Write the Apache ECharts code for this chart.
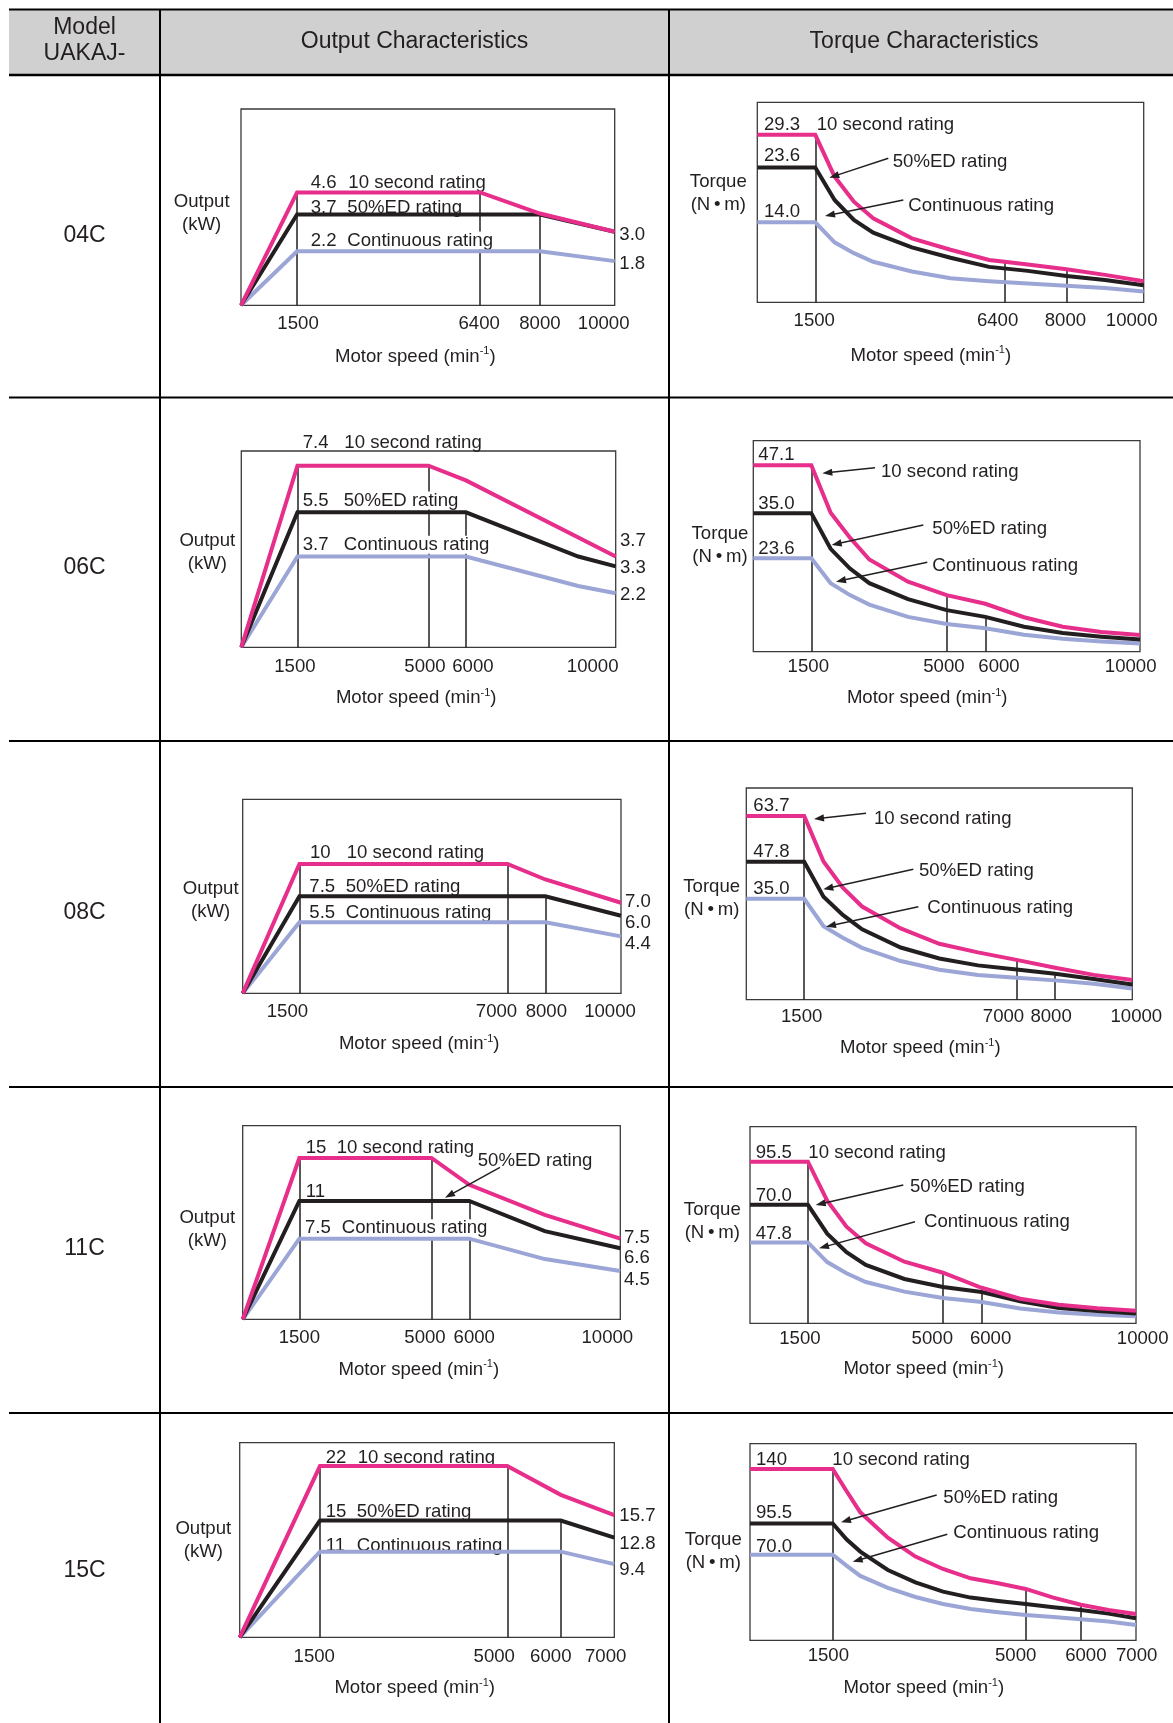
<!DOCTYPE html>
<html>
<head>
<meta charset="utf-8">
<title>UAKAJ output and torque characteristics</title>
<script src="https://cdn.jsdelivr.net/npm/echarts@6.0.0/dist/echarts.min.js"></script>
<style>
  html, body { margin: 0; padding: 0; background: #ffffff; }
  #sheet { width: 1173px; height: 1723px; }
</style>
</head>
<body>
<div id="sheet"></div>
<script>
// ---------------- models and rating names ----------------
const models = ['04C', '06C', '08C', '11C', '15C'];
const ratingNames = ['10 second rating', '50%ED rating', 'Continuous rating'];

// ---------------- 04C ----------------
const speedTicks04C = [1500, 6400, 8000, 10000];
const output04C_10sec = [[0, 0], [1500, 4.6], [6400, 4.6], [8000, 3.74], [10000, 3.0]];
const output04C_50ed  = [[0, 0], [1500, 3.7], [8000, 3.7], [10000, 3.0]];
const output04C_cont  = [[0, 0], [1500, 2.2], [8000, 2.2], [10000, 1.8]];
const outputMarks04C  = [[1500, 4.6], [6400, 4.6], [8000, 3.7]];
const torque04C_10sec = [[0, 29.3], [1500, 29.3], [2000, 22.0], [2500, 17.6], [3000, 14.7], [4000, 11.2], [5000, 9.2], [6000, 7.4], [6400, 7.1], [7000, 6.6], [8000, 5.8], [9000, 4.8], [10000, 3.7]];
const torque04C_50ed  = [[0, 23.6], [1500, 23.6], [2000, 17.9], [2500, 14.4], [3000, 12.2], [4000, 9.6], [5000, 7.8], [6000, 6.2], [7000, 5.5], [8000, 4.6], [9000, 3.9], [10000, 3.0]];
const torque04C_cont  = [[0, 14.0], [1500, 14.0], [2000, 10.5], [2500, 8.6], [3000, 7.1], [4000, 5.4], [5000, 4.2], [6000, 3.7], [7000, 3.3], [8000, 2.9], [9000, 2.5], [10000, 1.9]];
const torqueMarks04C  = [[1500, 29.3], [6400, 7.1], [8000, 5.8]];

// ---------------- 06C ----------------
const speedTicks06C = [1500, 5000, 6000, 10000];
const output06C_10sec = [[0, 0], [1500, 7.4], [5000, 7.4], [6000, 6.8], [10000, 3.7]];
const output06C_50ed  = [[0, 0], [1500, 5.5], [6000, 5.5], [9000, 3.7], [10000, 3.3]];
const output06C_cont  = [[0, 0], [1500, 3.7], [6000, 3.7], [9000, 2.5], [10000, 2.2]];
const outputMarks06C  = [[1500, 7.4], [5000, 7.4], [6000, 5.5]];
const torque06C_10sec = [[0, 47.1], [1500, 47.1], [2000, 35.1], [2500, 28.8], [3000, 23.3], [4000, 17.7], [5000, 14.3], [6000, 12.1], [7000, 8.7], [8000, 6.3], [9000, 5.0], [10000, 4.2]];
const torque06C_50ed  = [[0, 35.0], [1500, 35.0], [2000, 26.0], [2500, 21.0], [3000, 17.3], [4000, 13.3], [5000, 10.5], [6000, 8.8], [7000, 6.3], [8000, 4.7], [9000, 3.8], [10000, 3.1]];
const torque06C_cont  = [[0, 23.6], [1500, 23.6], [2000, 17.3], [2500, 14.3], [3000, 11.9], [4000, 8.8], [5000, 7.0], [6000, 5.9], [7000, 4.3], [8000, 3.3], [9000, 2.6], [10000, 2.1]];
const torqueMarks06C  = [[1500, 47.1], [5000, 14.3], [6000, 8.8]];

// ---------------- 08C ----------------
const speedTicks08C = [1500, 7000, 8000, 10000];
const output08C_10sec = [[0, 0], [1500, 10], [7000, 10], [8000, 8.8], [10000, 7.0]];
const output08C_50ed  = [[0, 0], [1500, 7.5], [8000, 7.5], [10000, 6.0]];
const output08C_cont  = [[0, 0], [1500, 5.5], [8000, 5.5], [10000, 4.4]];
const outputMarks08C  = [[1500, 10], [7000, 10], [8000, 7.5]];
const torque08C_10sec = [[0, 63.7], [1500, 63.7], [2000, 47.9], [2500, 38.8], [3000, 32.3], [4000, 24.7], [5000, 19.4], [6000, 16.4], [7000, 13.8], [8000, 11.1], [9000, 8.6], [10000, 6.8]];
const torque08C_50ed  = [[0, 47.8], [1500, 47.8], [2000, 35.7], [2500, 29.4], [3000, 24.4], [4000, 18.1], [5000, 14.3], [6000, 11.9], [7000, 10.5], [8000, 9.0], [9000, 7.2], [10000, 5.3]];
const torque08C_cont  = [[0, 35.0], [1500, 35.0], [2000, 25.5], [2500, 21.5], [3000, 18.0], [4000, 13.4], [5000, 10.4], [6000, 8.6], [7000, 7.6], [8000, 6.7], [9000, 5.5], [10000, 3.9]];
const torqueMarks08C  = [[1500, 63.7], [7000, 13.8], [8000, 9.0]];

// ---------------- 11C ----------------
const speedTicks11C = [1500, 5000, 6000, 10000];
const output11C_10sec = [[0, 0], [1500, 15], [5000, 15], [6000, 12.5], [8000, 9.7], [10000, 7.5]];
const output11C_50ed  = [[0, 0], [1500, 11], [6000, 11], [8000, 8.2], [10000, 6.6]];
const output11C_cont  = [[0, 0], [1500, 7.5], [6000, 7.5], [8000, 5.6], [10000, 4.5]];
const outputMarks11C  = [[1500, 15], [5000, 15], [6000, 11]];
const torque11C_10sec = [[0, 95.5], [1500, 95.5], [2000, 72.5], [2500, 57.1], [3000, 47.3], [4000, 36.4], [5000, 29.9], [6000, 21.0], [7000, 14.5], [8000, 11.0], [9000, 8.9], [10000, 7.4]];
const torque11C_50ed  = [[0, 70.0], [1500, 70.0], [2000, 53.0], [2500, 42.0], [3000, 34.5], [4000, 26.2], [5000, 21.5], [6000, 18.5], [7000, 13.0], [8000, 9.1], [9000, 7.2], [10000, 5.8]];
const torque11C_cont  = [[0, 47.8], [1500, 47.8], [2000, 36.2], [2500, 29.6], [3000, 24.4], [4000, 18.7], [5000, 15.0], [6000, 12.6], [7000, 8.7], [8000, 6.4], [9000, 5.1], [10000, 4.1]];
const torqueMarks11C  = [[1500, 95.5], [5000, 29.9], [6000, 18.5]];

// ---------------- 15C ----------------
const speedTicks15C = [1500, 5000, 6000, 7000];
const output15C_10sec = [[0, 0], [1500, 22], [5000, 22], [6000, 18.3], [7000, 15.7]];
const output15C_50ed  = [[0, 0], [1500, 15], [6000, 15], [7000, 12.8]];
const output15C_cont  = [[0, 0], [1500, 11], [6000, 11], [7000, 9.4]];
const outputMarks15C  = [[1500, 22], [5000, 22], [6000, 15]];
const torque15C_10sec = [[0, 140], [1500, 140], [1750, 122], [2000, 104.6], [2500, 83.9], [3000, 68.4], [3500, 58.3], [4000, 50.7], [4500, 46.6], [5000, 42.0], [5500, 34.9], [6000, 29.1], [6500, 24.8], [7000, 21.5]];
const torque15C_50ed  = [[0, 95.5], [1500, 95.5], [1750, 82.5], [2000, 72.5], [2500, 57.5], [3000, 47.4], [3500, 39.8], [4000, 34.9], [4500, 32.1], [5000, 29.7], [5500, 27.0], [6000, 24.8], [6500, 21.8], [7000, 18.0]];
const torque15C_cont  = [[0, 70.0], [1500, 70.0], [1750, 61.0], [2000, 52.6], [2500, 42.8], [3000, 35.4], [3500, 29.7], [4000, 25.6], [4500, 22.9], [5000, 20.7], [5500, 19.1], [6000, 17.2], [6500, 15.3], [7000, 12.5]];
const torqueMarks15C  = [[1500, 140], [5000, 42.0], [6000, 29.1]];

// ---------------- styling ----------------
const FONT = '"Liberation Sans", Arial, Helvetica, sans-serif';
const INK = '#231f20';
const PINK = '#e62e8a';
const LAVENDER = '#9ba5d6';
const CURVE_COLORS = [LAVENDER, INK, PINK];   // continuous, 50%ED, 10 second
const FS = 18.6;                              // chart text size

const fmtOutput = v => (Number.isInteger(v) && v >= 10) ? String(v) : v.toFixed(1);
const fmtTorque = v => v >= 100 ? String(Math.round(v)) : v.toFixed(1);
const corner = a => a[1][1];          // value at the 1500 min-1 corner
const start = a => a[0][1];           // value at standstill
const end = a => a[a.length - 1][1];  // value at top speed
const [R10, R50, RC] = ratingNames;

// ---------------- panel layout (pixels) ----------------
const panels = [
  { // 04C output
    rect: [241, 109, 373.7, 196.3], xMax: 10000, yMax: 8,
    ticks: speedTicks04C, tickShift: [1, -1, 0, -11], tickGap: 7.7,
    curves: [output04C_cont, output04C_50ed, output04C_10sec], marks: outputMarks04C,
    yTitle: ['Output\n(kW)', 201.7, 211.5], xTitle: [415.3, 355],
    notes: [
      [fmtOutput(corner(output04C_10sec)), 310.7, 181.7], [R10, 348.3, 181.7],
      [fmtOutput(corner(output04C_50ed)), 310.7, 206], [R50, 347.3, 206],
      [fmtOutput(corner(output04C_cont)), 310.7, 239], [RC, 347.3, 239],
      [fmtOutput(end(output04C_10sec)), 619.3, 233],
      [fmtOutput(end(output04C_cont)), 619.3, 262.7]
    ], arrows: []
  },
  { // 04C torque
    rect: [757.3, 102.3, 386.4, 200], xMax: 10000, yMax: 35,
    ticks: speedTicks04C, tickShift: [-1, -7, -1, -12], tickGap: 7.7,
    curves: [torque04C_cont, torque04C_50ed, torque04C_10sec], marks: torqueMarks04C,
    yTitle: ['Torque\n(N\u2009\u2022\u2009m)', 718.3, 191.7], xTitle: [930.8, 354],
    notes: [
      [fmtTorque(start(torque04C_10sec)), 764, 123.3], [R10, 816.7, 123.3],
      [fmtTorque(start(torque04C_50ed)), 764, 154],
      [fmtTorque(start(torque04C_cont)), 764, 210.7],
      [R50, 892.7, 160.7], [RC, 908.3, 204]
    ],
    arrows: [[888.3, 158.3, 829.3, 177.7], [903.3, 200, 825, 216]]
  },
  { // 06C output
    rect: [241.3, 451, 374.4, 196.3], xMax: 10000, yMax: 8,
    ticks: speedTicks06C, tickShift: [-2.5, -3.5, 7, -23], tickGap: 8.7,
    curves: [output06C_cont, output06C_50ed, output06C_10sec], marks: outputMarks06C,
    yTitle: ['Output\n(kW)', 207.3, 551.3], xTitle: [416.2, 696.7],
    notes: [
      [fmtOutput(corner(output06C_10sec)), 302.7, 441.7, true], [R10, 344.3, 441.7, true],
      [fmtOutput(corner(output06C_50ed)), 302.7, 499], [R50, 343.7, 499],
      [fmtOutput(corner(output06C_cont)), 302.7, 543.3], [RC, 343.7, 543.3],
      [fmtOutput(end(output06C_10sec)), 620, 539.3],
      [fmtOutput(end(output06C_50ed)), 620, 566],
      [fmtOutput(end(output06C_cont)), 620, 593.3]
    ], arrows: []
  },
  { // 06C torque
    rect: [753.3, 440.7, 386.7, 211], xMax: 10000, yMax: 53.3,
    ticks: speedTicks06C, tickShift: [-3, -2.7, 13.7, -9.3], tickGap: 5,
    curves: [torque06C_cont, torque06C_50ed, torque06C_10sec], marks: torqueMarks06C,
    yTitle: ['Torque\n(N\u2009\u2022\u2009m)', 720, 543.8], xTitle: [927.2, 696.7],
    notes: [
      [fmtTorque(start(torque06C_10sec)), 758.3, 453.3],
      [fmtTorque(start(torque06C_50ed)), 758.3, 502.3],
      [fmtTorque(start(torque06C_cont)), 758.3, 547.7],
      [R10, 881, 470], [R50, 932.3, 527], [RC, 932.3, 564]
    ],
    arrows: [[875, 467.7, 822.3, 473.3], [923.3, 525, 831.7, 545], [927.3, 562.3, 836, 581.7]]
  },
  { // 08C output
    rect: [242.7, 799.3, 378.3, 194], xMax: 10000, yMax: 15,
    ticks: speedTicks08C, tickShift: [-12, -11, 1, -11], tickGap: 8.4,
    curves: [output08C_cont, output08C_50ed, output08C_10sec], marks: outputMarks08C,
    yTitle: ['Output\n(kW)', 210.7, 899.2], xTitle: [419.2, 1042.7],
    notes: [
      [fmtOutput(corner(output08C_10sec)), 310, 851.7], [R10, 346.7, 851.7],
      [fmtOutput(corner(output08C_50ed)), 309.3, 885.7], [R50, 345.7, 885.7],
      [fmtOutput(corner(output08C_cont)), 309.3, 911.7], [RC, 345.7, 911.7],
      [fmtOutput(end(output08C_10sec)), 625, 900],
      [fmtOutput(end(output08C_50ed)), 625, 921.7],
      [fmtOutput(end(output08C_cont)), 625, 942.7]
    ], arrows: []
  },
  { // 08C torque
    rect: [746.3, 788, 386, 211.7], xMax: 10000, yMax: 73.4,
    ticks: speedTicks08C, tickShift: [-2.5, -13, -4, 4], tickGap: 7,
    curves: [torque08C_cont, torque08C_50ed, torque08C_10sec], marks: torqueMarks08C,
    yTitle: ['Torque\n(N\u2009\u2022\u2009m)', 711.7, 897.2], xTitle: [920.3, 1046.7],
    notes: [
      [fmtTorque(start(torque08C_10sec)), 753.3, 804],
      [fmtTorque(start(torque08C_50ed)), 753.3, 850.7],
      [fmtTorque(start(torque08C_cont)), 753.3, 887.7],
      [R10, 874, 817.7], [R50, 919, 869], [RC, 927.3, 906.3]
    ],
    arrows: [[866, 813.3, 814, 819], [913.3, 869.3, 823.3, 889.3], [918.3, 906.7, 826, 926.7]]
  },
  { // 11C output
    rect: [242.7, 1125.7, 377.6, 193.6], xMax: 10000, yMax: 18,
    ticks: speedTicks11C, tickShift: [0, -6.5, 5, -13], tickGap: 8.4,
    curves: [output11C_cont, output11C_50ed, output11C_10sec], marks: outputMarks11C,
    yTitle: ['Output\n(kW)', 207.3, 1228.3], xTitle: [418.8, 1368.3],
    notes: [
      [fmtOutput(corner(output11C_10sec)), 305.7, 1146.7], [R10, 336.7, 1146.7],
      [R50, 477.7, 1159],
      [fmtOutput(corner(output11C_50ed)), 305.7, 1190.7],
      [fmtOutput(corner(output11C_cont)), 305, 1226.7], [RC, 341.7, 1226.7],
      [fmtOutput(end(output11C_10sec)), 624, 1236],
      [fmtOutput(end(output11C_50ed)), 624, 1256.7],
      [fmtOutput(end(output11C_cont)), 624, 1278.7]
    ],
    arrows: [[500, 1167.3, 445, 1197.7]]
  },
  { // 11C torque
    rect: [750, 1126.7, 386, 196.6], xMax: 10000, yMax: 116.2,
    ticks: speedTicks11C, tickShift: [-8, -10.7, 9, 6.7], tickGap: 5,
    curves: [torque11C_cont, torque11C_50ed, torque11C_10sec], marks: torqueMarks11C,
    yTitle: ['Torque\n(N\u2009\u2022\u2009m)', 712.3, 1220], xTitle: [923.7, 1367.7],
    notes: [
      [fmtTorque(start(torque11C_10sec)), 755.7, 1151.7], [R10, 808.3, 1151.7],
      [fmtTorque(start(torque11C_50ed)), 755.7, 1194.3],
      [fmtTorque(start(torque11C_cont)), 755.7, 1232.7],
      [R50, 910, 1185], [RC, 924, 1220.7]
    ],
    arrows: [[903.3, 1185, 815.7, 1205], [915, 1221.7, 819, 1248.3]]
  },
  { // 15C output
    rect: [239.7, 1442.7, 374.6, 194.6], xMax: 7000, yMax: 25,
    ticks: speedTicks15C, tickShift: [-5.7, -13, -10, -8.6], tickGap: 8.7,
    curves: [output15C_cont, output15C_50ed, output15C_10sec], marks: outputMarks15C,
    yTitle: ['Output\n(kW)', 203.3, 1539.2], xTitle: [414.7, 1686.7],
    notes: [
      [fmtOutput(corner(output15C_10sec)), 325.7, 1456], [R10, 357.7, 1456],
      [fmtOutput(corner(output15C_50ed)), 325.7, 1510], [R50, 356.7, 1510],
      [fmtOutput(corner(output15C_cont)), 325.7, 1544], [RC, 356.7, 1544],
      [fmtOutput(end(output15C_10sec)), 619.3, 1514.3],
      [fmtOutput(end(output15C_50ed)), 619.3, 1542.7],
      [fmtOutput(end(output15C_cont)), 619.3, 1568.3]
    ], arrows: []
  },
  { // 15C torque
    rect: [750, 1443.7, 386, 196.6], xMax: 7000, yMax: 160.7,
    ticks: speedTicks15C, tickShift: [-4.4, -10, 5, 0.7], tickGap: 5,
    curves: [torque15C_cont, torque15C_50ed, torque15C_10sec], marks: torqueMarks15C,
    yTitle: ['Torque\n(N\u2009\u2022\u2009m)', 713.3, 1550.3], xTitle: [923.8, 1686.7],
    notes: [
      [fmtTorque(start(torque15C_10sec)), 756, 1458.3], [R10, 832.3, 1458.3],
      [fmtTorque(start(torque15C_50ed)), 756, 1511.7],
      [fmtTorque(start(torque15C_cont)), 756, 1545.7],
      [R50, 943.3, 1496.7], [RC, 953.3, 1531.7]
    ],
    arrows: [[936.7, 1495, 841, 1522.3], [947.3, 1534.3, 852.7, 1561.7]]
  }
];

// ---------------- table frame ----------------
const graphics = [];
const rowRules = [397.5, 741, 1087, 1413];
const rowCenters = [233, 565, 910, 1245.5, 1567.6];

graphics.push({ type: 'rect', silent: true, z: 0, shape: { x: 9, y: 9, width: 1164, height: 66 }, style: { fill: '#d0d0d0' } });
function rule(x1, y1, x2, y2, w) {
  graphics.push({ type: 'line', silent: true, z: 1, shape: { x1, y1, x2, y2 }, style: { stroke: '#000', lineWidth: w } });
}
rule(9, 9.5, 1173, 9.5, 2);
rule(9, 75, 1173, 75, 2.5);
rowRules.forEach(y => rule(9, y, 1173, y, 2));
rule(160, 9, 160, 1723, 2);
rule(669, 9, 669, 1723, 2);

// text helper: x is the left edge (or centre), y is the visual middle of the line
function textEl(str, x, y, opt) {
  opt = opt || {};
  const size = opt.size || FS;
  const st = {
    text: str, x: x, y: y + (size > 21 ? 3 : 1.5), fill: INK,
    fontSize: size, fontFamily: FONT,
    textAlign: opt.align || 'left', align: opt.align || 'left',
    textVerticalAlign: 'middle', verticalAlign: 'middle',
    lineHeight: opt.lineHeight || 18
  };
  if (opt.bg) { st.backgroundColor = '#ffffff'; st.padding = [0, 2, 0, 2]; st.x = x - 2; }
  return { type: 'text', silent: true, z: opt.z == null ? 5 : opt.z, style: st };
}
function text(str, x, y, opt) { graphics.push(textEl(str, x, y, opt)); }

// header
text('Model', 84.5, 24.5, { size: 23, align: 'center', lineHeight: 24 });
text('UAKAJ-', 84.5, 51, { size: 23, align: 'center', lineHeight: 24 });
text('Output Characteristics', 414.5, 38.5, { size: 23, align: 'center', lineHeight: 24 });
text('Torque Characteristics', 924, 38.5, { size: 23, align: 'center', lineHeight: 24 });
models.forEach((m, i) => text(m, 84.5, rowCenters[i], { size: 23, align: 'center', lineHeight: 24 }));

function arrow(x1, y1, x2, y2) {
  const len = Math.hypot(x2 - x1, y2 - y1);
  const ux = (x2 - x1) / len, uy = (y2 - y1) / len;
  const head = 10, half = 3.6;
  const bx = x2 - ux * head, by = y2 - uy * head;
  graphics.push({ type: 'line', silent: true, z: 20, shape: { x1, y1, x2: bx + ux, y2: by + uy }, style: { stroke: INK, lineWidth: 1.5 } });
  graphics.push({ type: 'polygon', silent: true, z: 20,
    shape: { points: [[x2, y2], [bx - uy * half, by + ux * half], [bx + uy * half, by - ux * half]] },
    style: { fill: INK } });
}

// ---------------- charts ----------------
const grids = [], xAxes = [], yAxes = [], series = [];

panels.forEach((p, i) => {
  grids.push({
    left: p.rect[0], top: p.rect[1], width: p.rect[2], height: p.rect[3],
    show: true, borderColor: '#3a3a3a', borderWidth: 1.3, backgroundColor: 'transparent',
    containLabel: false, outerBoundsMode: 'none'
  });
  xAxes.push({
    gridIndex: i, type: 'value', min: 0, max: p.xMax,
    axisLine: { show: false }, axisTick: { show: false }, splitLine: { show: false },
    axisLabel: { show: false }
  });
  yAxes.push({ gridIndex: i, type: 'value', min: 0, max: p.yMax, show: false });

  // speed reference lines
  series.push({
    type: 'lines', coordinateSystem: 'cartesian2d', xAxisIndex: i, yAxisIndex: i,
    silent: true, z: 1, polyline: false,
    lineStyle: { color: INK, width: 1.5, opacity: 1, curveness: 0 },
    data: p.marks.map(m => ({ coords: [[m[0], 0], [m[0], m[1]]] }))
  });
  // rating curves
  p.curves.forEach((c, k) => {
    series.push({
      type: 'line', xAxisIndex: i, yAxisIndex: i, data: c,
      name: ratingNames[2 - k], silent: true, clip: false, z: 10 + k,
      showSymbol: false, symbol: 'none',
      lineStyle: { color: CURVE_COLORS[k], width: 4, cap: 'butt', join: 'miter' }
    });
  });

  // titles
  text(p.yTitle[0], p.yTitle[1], p.yTitle[2], { align: 'center', lineHeight: 23 });
  graphics.push({
    type: 'text', silent: true, z: 5,
    style: {
      text: '{a|Motor speed (min}{s|-1}{a|)}',
      x: p.xTitle[0], y: p.xTitle[1] + 1.5,
      textAlign: 'center', align: 'center', textVerticalAlign: 'middle', verticalAlign: 'middle',
      fill: INK, fontSize: FS, fontFamily: FONT,
      rich: {
        a: { fontSize: FS, fontFamily: FONT, fill: INK, color: INK, lineHeight: 22, verticalAlign: 'middle' },
        s: { fontSize: 11, fontFamily: FONT, fill: INK, color: INK, lineHeight: 10, verticalAlign: 'top' }
      }
    }
  });

  // annotations
  p.notes.forEach(n => text(n[0], n[1], n[2], { bg: !n[3] }));
  p.arrows.forEach(a => arrow(a[0], a[1], a[2], a[3]));
});

const chart = echarts.init(document.getElementById('sheet'), null, { renderer: 'canvas', width: 1173, height: 1723 });
chart.setOption({
  animation: false,
  backgroundColor: '#ffffff',
  textStyle: { fontFamily: FONT, color: INK },
  grid: grids,
  xAxis: xAxes,
  yAxis: yAxes,
  series: series,
  graphic: { elements: graphics }
});

// speed tick labels, placed through each panel's own x scale
const tickLabels = [];
panels.forEach((p, i) => {
  p.ticks.forEach((t, k) => {
    const px = chart.convertToPixel({ xAxisIndex: i }, t);
    const py = p.rect[1] + p.rect[3] + p.tickGap + 9;
    tickLabels.push(textEl(String(t), px + p.tickShift[k], py, { align: 'center' }));
  });
});
chart.setOption({ graphic: { elements: graphics.concat(tickLabels) } });
</script>
</body>
</html>
